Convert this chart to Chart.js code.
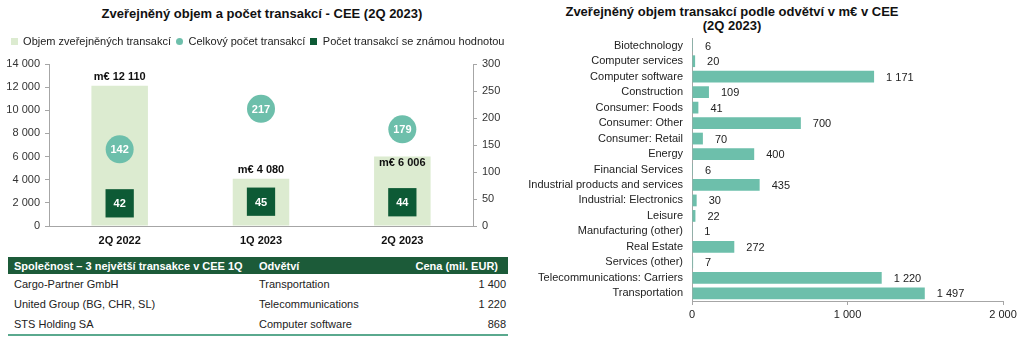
<!DOCTYPE html>
<html><head><meta charset="utf-8">
<script src="https://cdn.jsdelivr.net/npm/chart.js@4/dist/chart.umd.min.js"></script>
<style>
body{margin:0;width:1024px;height:342px;background:#fff;font-family:'Liberation Sans',Arial,sans-serif;position:relative;overflow:hidden}
.t{position:absolute;font-weight:bold;font-size:13px;color:#111;text-align:center;line-height:14px;white-space:nowrap}
#c1{position:absolute;left:0;top:0}
#c2{position:absolute;left:520px;top:0}
table{position:absolute;left:8px;top:257px;width:500px;border-collapse:collapse;font-size:11px;color:#222;table-layout:fixed}
th{background:#1c5b39;color:#fff;font-weight:bold;height:17px;padding:0 0 0 6px;text-align:left;white-space:nowrap}
td{height:20px;padding:0 0 0 6px;white-space:nowrap}
th.r{text-align:right;padding-right:10px}
td.r{text-align:right;padding-right:2px}
tr:last-child td{border-bottom:2px solid #5aa98e}
</style></head><body>
<div class="t" style="left:62px;width:400px;top:7px">Zveřejněný objem a počet transakcí - CEE (2Q 2023)</div>
<div class="t" style="left:532px;width:400px;top:5px">Zveřejněný objem transakcí podle odvětví v m€ v CEE<br>(2Q 2023)</div>
<canvas id="c1" width="515" height="250"></canvas>
<canvas id="c2" width="504" height="342"></canvas>
<table id="tbl"></table>
<script>
// ---- data ----
const periods = ['2Q 2022', '1Q 2023', '2Q 2023'];
const volume = [12110, 4080, 6006];
const totalDeals = [142, 217, 179];
const knownDeals = [42, 45, 44];
const seriesNames = ['Objem zveřejněných transakcí', 'Celkový počet transakcí', 'Počet transakcí se známou hodnotou'];

const sectors = ['Biotechnology', 'Computer services', 'Computer software', 'Construction', 'Consumer: Foods',
  'Consumer: Other', 'Consumer: Retail', 'Energy', 'Financial Services', 'Industrial products and services',
  'Industrial: Electronics', 'Leisure', 'Manufacturing (other)', 'Real Estate', 'Services (other)',
  'Telecommunications: Carriers', 'Transportation'];
const sectorVolume = [6, 20, 1171, 109, 41, 700, 70, 400, 6, 435, 30, 22, 1, 272, 7, 1220, 1497];

const tableHeader = ['Společnost – 3 největší transakce v CEE 1Q', 'Odvětví', 'Cena (mil. EUR)'];
const tableCompanies = ['Cargo-Partner GmbH', 'United Group (BG, CHR, SL)', 'STS Holding SA'];
const tableSectors = ['Transportation', 'Telecommunications', 'Computer software'];
const tablePrices = [1400, 1220, 868];

// ---- styles ----
const LIGHT = '#dcebd0', TEAL = '#6dbfab', DARK = '#0d5a35', AXIS = '#a6a6a6';
const FONT = "'Liberation Sans', Arial, sans-serif";
const fmt = n => String(n).replace(/\B(?=(\d{3})+(?!\d))/g, ' ');
Chart.defaults.font.family = FONT;
Chart.defaults.color = '#222';

// table
(function(){
  const t = document.getElementById('tbl');
  let h = '<colgroup><col style="width:245px"><col style="width:140px"><col></colgroup>';
  h += '<tr>' + tableHeader.map((x,i)=>'<th' + (i===2?' class="r"':'') + '>' + x + '</th>').join('') + '</tr>';
  tableCompanies.forEach((c,i)=>{
    h += '<tr><td>' + c + '</td><td>' + tableSectors[i] + '</td><td class="r">' + fmt(tablePrices[i]) + '</td></tr>';
  });
  t.innerHTML = h;
})();

function icon(type, color, s){
  const c = document.createElement('canvas'); c.width = s; c.height = s;
  const g = c.getContext('2d'); g.fillStyle = color;
  if (type === 'circle'){ g.beginPath(); g.arc(s/2, s/2, s/2, 0, Math.PI*2); g.fill(); }
  else g.fillRect(0, 0, s, s);
  return c;
}
const legendIcons = [icon('rect', LIGHT, 7), icon('circle', TEAL, 7), icon('rect', DARK, 7)];

const leftLabels = {
  id: 'leftLabels',
  afterDatasetsDraw(chart){
    const ctx = chart.ctx;
    ctx.save();
    ctx.textAlign = 'center'; ctx.textBaseline = 'middle';
    const bars = chart.getDatasetMeta(0).data;
    const circ = chart.getDatasetMeta(1).data;
    const sq = chart.getDatasetMeta(2).data;
    ctx.font = 'bold 11px ' + FONT; ctx.fillStyle = '#111';
    bars.forEach((b,i)=>{
      let y = b.y - 9;
      const c = circ[i];
      if (c && c.y < b.y && (y - 7) < c.y + 16) y = b.y + 6;
      ctx.fillText('m€ ' + fmt(volume[i]), b.x, y);
    });
    ctx.fillStyle = '#fff';
    circ.forEach((p,i)=> ctx.fillText(String(totalDeals[i]), p.x, p.y + 1));
    sq.forEach((p,i)=> ctx.fillText(String(knownDeals[i]), p.x, p.y + 1));
    ctx.restore();
  }
};
const legendPad = {
  id: 'legendPad',
  beforeInit(chart){
    const orig = chart.legend.fit;
    chart.legend.fit = function(){ orig.call(this); this.height += 7; };
  }
};

new Chart(document.getElementById('c1'), {
  data: {
    labels: periods,
    datasets: [
      {type:'bar', label: seriesNames[0], data: volume, backgroundColor: LIGHT, yAxisID:'y', order:3,
       barPercentage:0.4, categoryPercentage:1},
      {type:'line', label: seriesNames[1], data: totalDeals, yAxisID:'y2', showLine:false, order:2,
       pointStyle:'circle', pointRadius:14, pointHoverRadius:14, backgroundColor: TEAL, borderColor: TEAL, pointBorderWidth:0, borderWidth:0},
      {type:'line', label: seriesNames[2], data: knownDeals, yAxisID:'y2', showLine:false, order:1,
       pointStyle:'rect', pointRadius:20, pointHoverRadius:20, backgroundColor: DARK, borderColor: DARK, pointBorderWidth:0, borderWidth:0}
    ]
  },
  options: {
    responsive:false, animation:false, devicePixelRatio:1,
    layout:{padding:{top:31, left:0, right:0, bottom:0}},
    plugins:{
      tooltip:{enabled:false},
      legend:{position:'top', labels:{usePointStyle:true, boxWidth:7, boxHeight:7, padding:5,
        font:{size:11}, color:'#222',
        sort:(a,b)=>a.datasetIndex-b.datasetIndex,
        generateLabels(chart){
          const items = Chart.defaults.plugins.legend.labels.generateLabels(chart);
          items.forEach(it=>{ it.pointStyle = legendIcons[it.datasetIndex]; it.lineWidth = 0; });
          return items;
        }}}
    },
    scales:{
      x:{grid:{display:true, drawOnChartArea:false, drawTicks:false}, border:{color:AXIS},
         ticks:{font:{size:11, weight:'bold'}, color:'#111', padding:8},
         afterFit(s){ s.height = 24; }},
      y:{position:'left', min:0, max:14000, ticks:{stepSize:2000, callback:v=>fmt(v), font:{size:11}, color:'#333', padding:5},
         grid:{drawOnChartArea:false, tickLength:4, color:AXIS}, border:{color:AXIS},
         afterFit(s){ s.width = 49; }},
      y2:{position:'right', min:0, max:300, ticks:{stepSize:50, font:{size:11}, color:'#333', padding:5},
         grid:{drawOnChartArea:false, tickLength:4, color:AXIS}, border:{color:AXIS},
         afterFit(s){ s.width = 42; }}
    }
  },
  plugins:[leftLabels, legendPad]
});

const rightLabels = {
  id:'rightLabels',
  afterDatasetsDraw(chart){
    const ctx = chart.ctx; ctx.save();
    ctx.font = '11px ' + FONT; ctx.fillStyle = '#222'; ctx.textAlign = 'left'; ctx.textBaseline = 'middle';
    chart.getDatasetMeta(0).data.forEach((b,i)=> ctx.fillText(fmt(sectorVolume[i]), b.x + 12, b.y + 1));
    ctx.restore();
  }
};

new Chart(document.getElementById('c2'), {
  type:'bar',
  data:{labels: sectors, datasets:[{data: sectorVolume, backgroundColor: TEAL, barPercentage:0.76, categoryPercentage:1}]},
  options:{
    indexAxis:'y', responsive:false, animation:false, devicePixelRatio:1,
    layout:{padding:{top:38, right:21, left:0, bottom:0}},
    plugins:{legend:{display:false}, tooltip:{enabled:false}},
    scales:{
      x:{min:0, max:2000, ticks:{stepSize:1000, callback:v=>fmt(v), font:{size:11}, color:'#222', padding:3},
         grid:{drawOnChartArea:false, tickLength:4, color:AXIS}, border:{color:AXIS},
         afterFit(s){ s.height = 41; }},
      y:{ticks:{font:{size:11}, color:'#222', padding:9, autoSkip:false},
         grid:{drawOnChartArea:false, drawTicks:false, color:AXIS}, border:{color:AXIS},
         afterFit(s){ s.width = 172; }}
    }
  },
  plugins:[rightLabels]
});
</script>
</body></html>
